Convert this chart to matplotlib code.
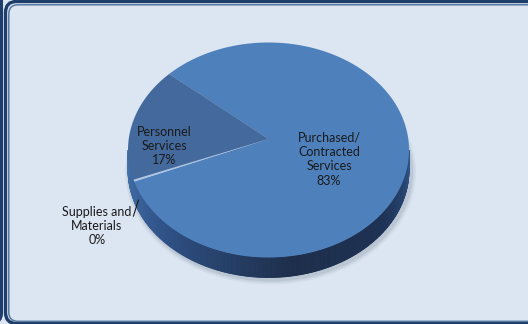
import numpy as np
import matplotlib
matplotlib.use("Agg")
import matplotlib.pyplot as plt
from matplotlib.patches import Polygon, FancyBboxPatch, Ellipse
from matplotlib.colors import LinearSegmentedColormap

# Budget shares by category
categories = ["Purchased/\nContracted\nServices", "Supplies and\nMaterials", "Personnel\nServices"]
shares = [83, 0.3, 17]
top_colors = ["#4e80bc", "#adc6e6", "#44699d"]

W, H = 528, 324
fig = plt.figure(figsize=(W / 100, H / 100), dpi=100, facecolor="#dce6f2")
ax = fig.add_axes([0, 0, 1, 1])
ax.set_xlim(0, W)
ax.set_ylim(H, 0)
ax.axis("off")

plt.rcParams["font.family"] = ["Lato", "DejaVu Sans"]

# ---- frame ----
ax.add_patch(FancyBboxPatch((-600, -40), 601.5, 363, boxstyle="round,pad=0,rounding_size=10",
                            fc="none", ec="#1f3d6b", lw=2.2, zorder=5))
ax.add_patch(FancyBboxPatch((5.5, 1.5), 600, 322, boxstyle="round,pad=0,rounding_size=11",
                            fc="none", ec="#1f3d6b", lw=2.4, zorder=5))
ax.add_patch(FancyBboxPatch((8.8, 4.8), 600, 316.5, boxstyle="round,pad=0,rounding_size=9",
                            fc="none", ec="#56799f", lw=1.1, zorder=5))

# ---- pie geometry ----
cx, cy = 268.5, 150.0      # ellipse centre of the top face
a, b = 140.5, 107.5        # semi-axes
apex = (268.5, 139.0)      # where the slices meet
depth = 20.0
start = 135.0              # degrees, slices run clockwise

def pt(theta_deg, dy=0.0):
    t = np.radians(theta_deg)
    return cx + a * np.cos(t), cy - b * np.sin(t) + dy

total = sum(shares)
bounds = [start]
for s in shares:
    bounds.append(bounds[-1] - 360.0 * s / total)

# soft shadow under the disc
for grow, al in [(5, 0.04), (3.5, 0.05), (2, 0.07)]:
    ax.add_patch(Ellipse((cx + 2, cy + depth + 2), 2 * a + grow * 2, 2 * b + grow * 2,
                         fc="#0d1a30", ec="none", alpha=al, zorder=1))

# side wall shaded by angle
side_cmap = LinearSegmentedColormap.from_list(
    "side",
    [(0.0, "#4774ad"), (0.22, "#30548a"), (0.55, "#1d2e4b"),
     (0.8, "#1e3254"), (1.0, "#2e5385")])
step = 0.5
for th in np.arange(180, 360, step):
    quad = [pt(th), pt(th + step), pt(th + step, depth), pt(th, depth)]
    col = side_cmap((th - 180) / 180.0)
    ax.add_patch(Polygon(quad, closed=True, fc=col, ec=col, lw=0.6, zorder=2))

# top faces
for i, (s, c) in enumerate(zip(shares, top_colors)):
    t0, t1 = bounds[i], bounds[i + 1]
    n = max(int(abs(t0 - t1) * 2), 4)
    arc = [pt(t) for t in np.linspace(t0, t1, n)]
    ax.add_patch(Polygon([apex] + arc, closed=True, fc=c, ec="none", zorder=3))

# ---- labels ----
pcts = [100.0 * s / total for s in shares]
label_pos = {0: (329, 159), 1: (97, 226), 2: (164, 146)}
for i, cat in enumerate(categories):
    x, y = label_pos[i]
    ax.text(x, y, f"{cat}\n{pcts[i]:.0f}%", ha="center", va="center",
            fontsize=9, color="#1a1a1a", linespacing=1.25, zorder=6)

# leader line for the small slice
mid = 0.5 * (bounds[1] + bounds[2])
ex, ey = pt(mid)
ax.plot([ex + 4.6, ex - 0.4], [ey + 19.5, ey + 35.5], color="#1a1a1a", lw=0.8, zorder=6)

fig.savefig("out.png", dpi=100, facecolor=fig.get_facecolor())
